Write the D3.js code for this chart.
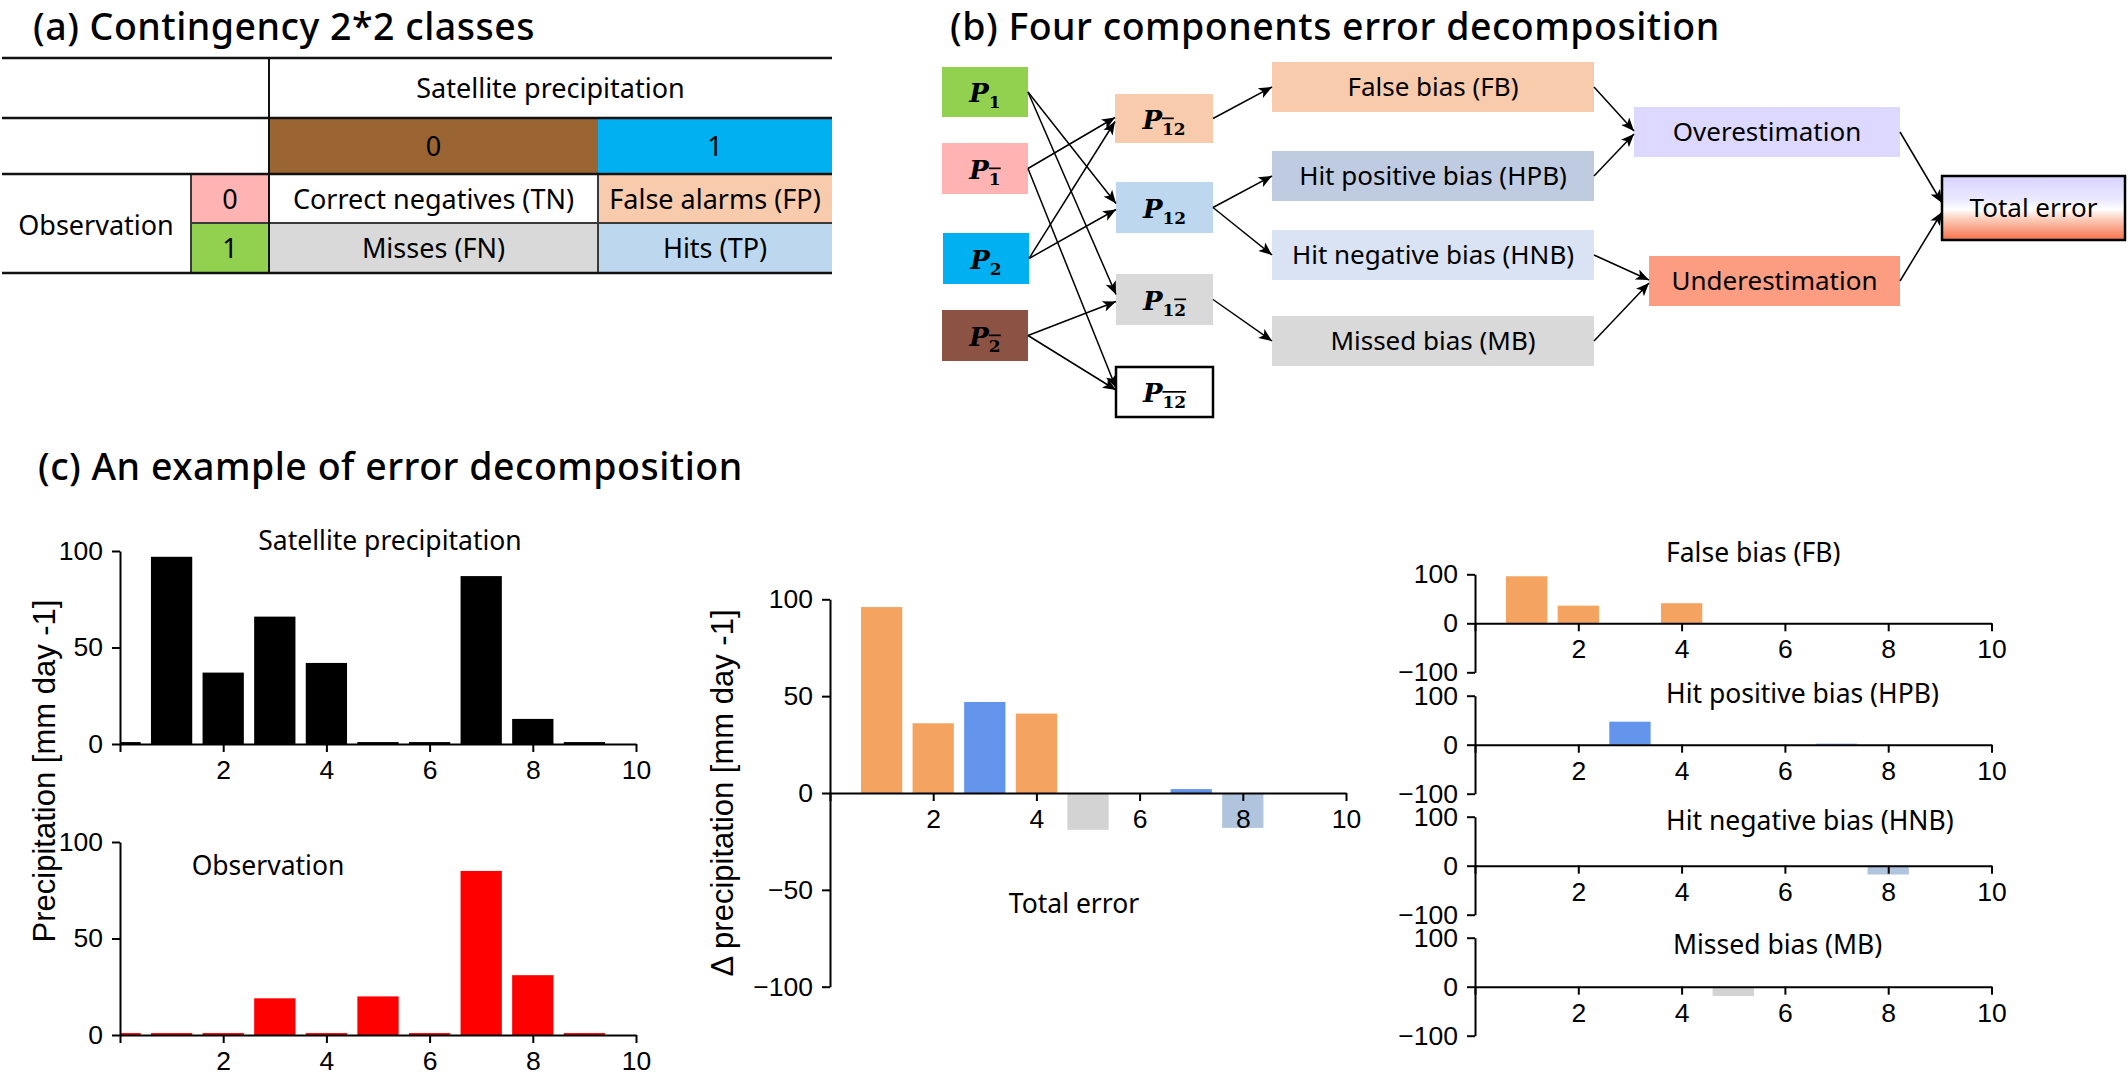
<!DOCTYPE html>
<html><head><meta charset="utf-8">
<script src="https://cdn.jsdelivr.net/npm/d3@7"></script>
<style>
html,body{margin:0;padding:0;background:#fff;}
svg{display:block;}
</style></head>
<body>
<svg id="chart" width="2128" height="1076"></svg>
<script>
// ---------------- DATA ----------------
const days = [0, 1, 2, 3, 4, 5, 6, 7, 8, 9];
const satellite   = [1, 97, 37, 66, 42, 1, 1, 87, 13, 1];
const observation = [1, 1, 1, 19, 1, 20, 1, 85, 31, 1];
const falseBias       = [0, 96, 36, 0, 41, 0, 0, 0, 0, 0];
const hitPositiveBias = [0, 0, 0, 47, 0, 0, 0, 2, 0, 0];
const hitNegativeBias = [0, 0, 0, 0, 0, 0, 0, 0, -18, 0];
const missedBias      = [0, 0, 0, 0, 0, -19, 0, 0, 0, 0];
const xTicks = [0, 2, 4, 6, 8, 10];
const precipTicks = [0, 50, 100];
const deltaTicks = [-100, -50, 0, 50, 100];
const componentTicks = [-100, 0, 100];
const componentNames = ["False bias (FB)", "Hit positive bias (HPB)", "Hit negative bias (HNB)", "Missed bias (MB)"];
const panelTitles = ["(a) Contingency 2*2 classes", "(b) Four components error decomposition", "(c) An example of error decomposition"];
const satClasses = ["0", "1"];
const obsClasses = ["0", "1"];
const contingencyCells = [["Correct negatives (TN)", "False alarms (FP)"], ["Misses (FN)", "Hits (TP)"]];

// ---------------- SETUP ----------------
const svg = d3.select("#chart");
const SANS = "'Noto Sans', 'Open Sans', sans-serif";
const ARIAL = "'Liberation Sans', Arial, sans-serif";
const SERIF = "'DejaVu Serif', 'Liberation Serif', serif";
const C = { orange: "#F4A460", blue: "#6495ED", lsblue: "#B0C4DE", grey: "#D3D3D3" };

function label(g, x, y, s, size, opts = {}) {
  const t = g.append("text").attr("x", x).attr("y", y)
    .attr("font-family", opts.family || SANS).attr("font-size", size)
    .attr("text-anchor", opts.anchor || "start").attr("fill", "#000").text(s);
  if (opts.weight) t.attr("font-weight", opts.weight);
  if (opts.spacing) t.attr("letter-spacing", opts.spacing);
  return t;
}

const defs = svg.append("defs");
defs.append("marker").attr("id", "arr").attr("viewBox", "0 0 12 10")
  .attr("refX", 12).attr("refY", 5).attr("markerWidth", 14).attr("markerHeight", 11)
  .attr("markerUnits", "userSpaceOnUse").attr("orient", "auto")
  .append("path").attr("d", "M0,0 L12,5 L0,10 L3,5 Z").attr("fill", "#000");
const grad = defs.append("linearGradient").attr("id", "totGrad")
  .attr("x1", 0).attr("y1", 0).attr("x2", 0).attr("y2", 1);
[[0, "#D6D2FF"], [0.38, "#ECEAFF"], [0.52, "#FFFFFF"], [0.68, "#FCCBB8"], [1, "#F6714A"]]
  .forEach(([o, c]) => grad.append("stop").attr("offset", o).attr("stop-color", c));

// ---------------- PANEL (a) ----------------
const gA = svg.append("g");
label(gA, 33, 40, panelTitles[0], 37.5, { weight: 500, spacing: 0.5 });
const T = { x0: 2, x1: 832, xObs: 191, xSat: 269, xMid: 598, ys: [58, 118, 174, 223, 273] };
const satCols = [[T.xSat, T.xMid], [T.xMid, T.x1]];
const satColors = ["#9A6533", "#00B0F0"];
const obsColors = ["#FFB3B3", "#92D050"];
const cellColors = [["#FFFFFF", "#F8CBAD"], ["#D9D9D9", "#BDD7EE"]];
satClasses.forEach((c, i) => {
  gA.append("rect").attr("x", satCols[i][0]).attr("y", T.ys[1]).attr("width", satCols[i][1] - satCols[i][0])
    .attr("height", T.ys[2] - T.ys[1]).attr("fill", satColors[i]);
  label(gA, (satCols[i][0] + satCols[i][1]) / 2, (T.ys[1] + T.ys[2]) / 2 + 10, c, 27, { anchor: "middle" });
});
obsClasses.forEach((c, r) => {
  const y0 = T.ys[2 + r], y1 = T.ys[3 + r];
  gA.append("rect").attr("x", T.xObs).attr("y", y0).attr("width", T.xSat - T.xObs).attr("height", y1 - y0).attr("fill", obsColors[r]);
  label(gA, (T.xObs + T.xSat) / 2, (y0 + y1) / 2 + 10, c, 27, { anchor: "middle" });
  contingencyCells[r].forEach((s, k) => {
    gA.append("rect").attr("x", satCols[k][0]).attr("y", y0).attr("width", satCols[k][1] - satCols[k][0])
      .attr("height", y1 - y0).attr("fill", cellColors[r][k]);
    label(gA, (satCols[k][0] + satCols[k][1]) / 2, (y0 + y1) / 2 + 10, s, 27, { anchor: "middle" });
  });
});
label(gA, 96, 235, "Observation", 27, { anchor: "middle" });
label(gA, (T.xSat + T.x1) / 2, 98, "Satellite precipitation", 27, { anchor: "middle" });
[[T.xObs, T.ys[2], T.xObs, T.ys[4]], [T.xMid, T.ys[2], T.xMid, T.ys[4]], [T.xObs, T.ys[3], T.x1, T.ys[3]]]
  .forEach(l => gA.append("line").attr("x1", l[0]).attr("y1", l[1]).attr("x2", l[2]).attr("y2", l[3])
    .attr("stroke", "#3a3a3a").attr("stroke-width", 2));
T.ys.filter((y, i) => i !== 3).forEach(y => gA.append("line").attr("x1", T.x0).attr("x2", T.x1)
  .attr("y1", y).attr("y2", y).attr("stroke", "#111").attr("stroke-width", 2.5));
gA.append("line").attr("x1", T.xSat).attr("x2", T.xSat).attr("y1", T.ys[0]).attr("y2", T.ys[4])
  .attr("stroke", "#111").attr("stroke-width", 2);

// ---------------- PANEL (b) ----------------
const gB = svg.append("g");
label(gB, 950, 40, panelTitles[1], 37.5, { weight: 500, spacing: 0.5 });
const nodes = {
  P1:    { x0: 942, x1: 1028, y0: 67, y1: 117, fill: "#92D050", sub: [["1", false]] },
  P1n:   { x0: 942, x1: 1028, y0: 143, y1: 194, fill: "#FFB3B3", sub: [["1", true]] },
  P2:    { x0: 943, x1: 1029, y0: 233, y1: 284, fill: "#00B0F0", sub: [["2", false]] },
  P2n:   { x0: 942, x1: 1028, y0: 310, y1: 361, fill: "#8C5244", sub: [["2", true]] },
  P1n2:  { x0: 1115, x1: 1213, y0: 94, y1: 143, fill: "#F8CBAD", sub: [["1", true], ["2", false]] },
  P12:   { x0: 1116, x1: 1213, y0: 182, y1: 233, fill: "#BDD7EE", sub: [["12", false]] },
  P12n:  { x0: 1116, x1: 1213, y0: 274, y1: 325, fill: "#D9D9D9", sub: [["1", false], ["2", true]] },
  P1n2n: { x0: 1116, x1: 1213, y0: 367, y1: 417, fill: "#FFFFFF", stroke: "#000", sub: [["12", true]] },
  FB:    { x0: 1272, x1: 1594, y0: 62, y1: 112, fill: "#F8CBAD", text: componentNames[0] },
  HPB:   { x0: 1272, x1: 1594, y0: 151, y1: 201, fill: "#BFCBE0", text: componentNames[1] },
  HNB:   { x0: 1272, x1: 1594, y0: 230, y1: 280, fill: "#DAE3F3", text: componentNames[2] },
  MB:    { x0: 1272, x1: 1594, y0: 316, y1: 366, fill: "#D9D9D9", text: componentNames[3] },
  OVER:  { x0: 1634, x1: 1900, y0: 107, y1: 157, fill: "#DCD8FF", text: "Overestimation" },
  UNDER: { x0: 1649, x1: 1900, y0: 256, y1: 306, fill: "#FC9C80", text: "Underestimation" },
  TOTAL: { x0: 1942, x1: 2125, y0: 176, y1: 240, fill: "url(#totGrad)", stroke: "#000", text: "Total error" }
};
const edges = [
  ["P1", "P12", -4], ["P1", "P12n", -5], ["P1n", "P1n2", -1], ["P1n", "P1n2n", -4],
  ["P2", "P1n2", 3], ["P2", "P12", 2], ["P2n", "P12n", 2], ["P2n", "P1n2n", -2],
  ["P1n2", "FB", 0], ["P12", "HPB", 0], ["P12", "HNB", 0], ["P12n", "MB", 0],
  ["FB", "OVER", -1], ["HPB", "OVER", 2], ["HNB", "UNDER", -1], ["MB", "UNDER", 2],
  ["OVER", "TOTAL", -5], ["UNDER", "TOTAL", 4]
];
Object.values(nodes).forEach(n => {
  gB.append("rect").attr("x", n.x0).attr("y", n.y0).attr("width", n.x1 - n.x0).attr("height", n.y1 - n.y0)
    .attr("fill", n.fill).attr("stroke", n.stroke || "none").attr("stroke-width", n.stroke ? 2.5 : 0);
  const cx = (n.x0 + n.x1) / 2, cy = (n.y0 + n.y1) / 2;
  if (n.text) {
    label(gB, cx, cy + 9, n.text, 26, { anchor: "middle" });
  } else {
    const t = gB.append("text").attr("x", cx).attr("y", cy + 10).attr("text-anchor", "middle")
      .attr("font-family", SERIF).attr("fill", "#000");
    t.append("tspan").attr("font-size", 26).attr("font-weight", "bold").attr("font-style", "italic").text("P");
    n.sub.forEach((s, i) => {
      const ts = t.append("tspan").attr("font-size", 17).attr("font-weight", "bold").text(s[0]);
      if (i === 0) ts.attr("dy", 6);
      if (s[1]) ts.style("text-decoration", "overline");
    });
  }
});
edges.forEach(([a, b, off]) => {
  const s = nodes[a], t = nodes[b];
  gB.append("line").attr("x1", s.x1).attr("y1", (s.y0 + s.y1) / 2)
    .attr("x2", t.x0).attr("y2", (t.y0 + t.y1) / 2 + off)
    .attr("stroke", "#000").attr("stroke-width", 1.5).attr("marker-end", "url(#arr)");
});

// ---------------- PANEL (c) ----------------
const gC = svg.append("g");
label(gC, 38, 480, panelTitles[2], 37.5, { weight: 500, spacing: 0.5 });

function barChart(cfg) {
  const x = d3.scaleLinear().domain([0, 10]).range([cfg.x0, cfg.x1]);
  const y = d3.scaleLinear().domain(cfg.yDomain).range([cfg.yBottom, cfg.yTop]);
  const g = gC.append("g");
  cfg.series.forEach(s => {
    g.append("g").selectAll("rect")
      .data(days.map((d, i) => ({ d, v: s.values[i] })).filter(p => p.v !== 0))
      .join("rect")
      .attr("x", p => x(Math.max(0, p.d - 0.4)))
      .attr("width", p => x(p.d + 0.4) - x(Math.max(0, p.d - 0.4)))
      .attr("y", p => y(Math.max(0, p.v)))
      .attr("height", p => Math.abs(y(p.v) - y(0)))
      .attr("fill", s.color);
  });
  const ya = g.append("g").attr("transform", `translate(${x(0)},0)`)
    .call(d3.axisLeft(y).tickValues(cfg.yTicks).tickSize(8).tickSizeOuter(0).tickPadding(9).tickFormat(d3.format("d")));
  const xa = g.append("g").attr("transform", `translate(0,${y(0)})`)
    .call(d3.axisBottom(x).tickValues(xTicks).tickSize(8).tickSizeOuter(0).tickPadding(8)
      .tickFormat(d => d === 0 ? "" : d));
  [ya, xa].forEach(a => {
    a.selectAll("path.domain").attr("stroke", "#000").attr("stroke-width", 2);
    a.selectAll(".tick line").attr("stroke", "#000").attr("stroke-width", 2);
    a.selectAll(".tick text").attr("font-family", ARIAL).attr("font-size", 26.5).attr("fill", "#000");
  });
  if (cfg.title) label(g, cfg.title[1], cfg.title[2], cfg.title[0], 26.5, { anchor: cfg.title[3] || "middle" });
  return { x, y, g };
}

barChart({ x0: 120, x1: 636, yDomain: [0, 100], yBottom: 744, yTop: 551, yTicks: precipTicks,
  series: [{ values: satellite, color: "#000" }], title: ["Satellite precipitation", 390, 550] });
barChart({ x0: 120, x1: 636, yDomain: [0, 100], yBottom: 1035, yTop: 842, yTicks: precipTicks,
  series: [{ values: observation, color: "#FF0000" }], title: ["Observation", 268, 875] });
barChart({ x0: 830, x1: 1346, yDomain: [-100, 100], yBottom: 986.7, yTop: 599.3, yTicks: deltaTicks,
  series: [{ values: falseBias, color: C.orange }, { values: hitPositiveBias, color: C.blue },
           { values: hitNegativeBias, color: C.lsblue }, { values: missedBias, color: C.grey }],
  title: ["Total error", 1074, 913] });

const compSeries = [falseBias, hitPositiveBias, hitNegativeBias, missedBias];
const compColors = [C.orange, C.blue, C.lsblue, C.grey];
const compTops = [574.3, 695.7, 816.7, 937.7];
const compTitlePos = [[1666, 562], [1666, 703], [1666, 830], [1673, 954]];
compSeries.forEach((vals, i) => {
  barChart({ x0: 1475, x1: 1991.5, yDomain: [-100, 100], yBottom: compTops[i] + 98, yTop: compTops[i],
    yTicks: componentTicks, series: [{ values: vals, color: compColors[i] }],
    title: [componentNames[i], compTitlePos[i][0], compTitlePos[i][1], "start"] });
});

gC.append("text").attr("transform", "translate(55,771) rotate(-90)").attr("text-anchor", "middle")
  .attr("font-family", ARIAL).attr("font-size", 31).text("Precipitation [mm day -1]");
gC.append("text").attr("transform", "translate(733,793) rotate(-90)").attr("text-anchor", "middle")
  .attr("font-family", ARIAL).attr("font-size", 31).text("Δ precipitation [mm day -1]");
</script>
</body></html>
